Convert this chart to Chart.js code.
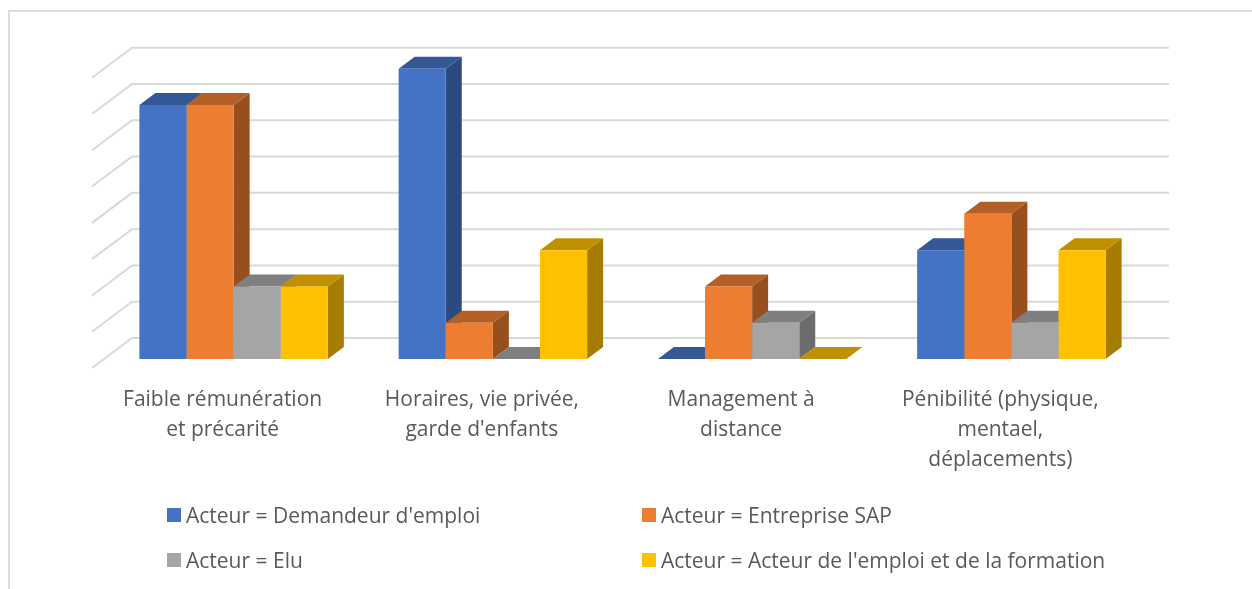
<!DOCTYPE html>
<html><head><meta charset="utf-8">
<style>html,body{margin:0;padding:0;background:#fff}#w{width:1252px;height:589px;position:relative}</style>
<script src="https://cdn.jsdelivr.net/npm/chart.js@4"></script>
</head><body><div id="w"><canvas id="c" width="1252" height="589"></canvas></div>
<script>
const categories = [
  ["Faible rémunération","et précarité"],
  ["Horaires, vie privée,","garde d'enfants"],
  ["Management à","distance"],
  ["Pénibilité (physique,","mentael,","déplacements)"]
];
const seriesNames = ["Acteur = Demandeur d'emploi","Acteur = Entreprise SAP","Acteur = Elu","Acteur = Acteur de l'emploi et de la formation"];
const demandeur = [7,8,0,3];
const entreprise = [7,1,2,4];
const elu = [2,0,1,1];
const acteurEmploi = [2,3,0,3];
const frontColors = ["#4472C4","#ED7D31","#A5A5A5","#FFC000"];
const topColors = ["#345796","#B45F25","#7F7F7F","#C09000"];
const sideColors = ["#2B4A80","#984F1E","#6C6C6C","#A67D00"];
const FONT = '"Open Sans", sans-serif';
const TEXT = "#595959", GRID = "#D9D9D9";
const DX = 16, DY = 12;

const depth3d = {
  id:"depth3d",
  beforeDatasetsDraw(chart){
    const c = chart.ctx, y = chart.scales.y, a = chart.chartArea;
    c.save();
    c.strokeStyle = GRID; c.lineWidth = 2;
    y.ticks.forEach(t=>{
      const p = y.getPixelForValue(t.value);
      c.beginPath();
      c.moveTo(a.left-12, p+9);
      c.lineTo(a.left+28, p-21);
      c.lineTo(a.right+28, p-21);
      c.stroke();
    });
    const n = chart.data.labels.length;
    for(let i=0;i<n;i++){
      chart.data.datasets.forEach((ds,d)=>{
        const b = chart.getDatasetMeta(d).data[i];
        const l = b.x-b.width/2, r = b.x+b.width/2, t = b.y, g = b.base;
        c.fillStyle = sideColors[d];
        if(g-t>0.5){
          c.beginPath();c.moveTo(r,t);c.lineTo(r+DX,t-DY);c.lineTo(r+DX,g-DY);c.lineTo(r,g);c.closePath();c.fill();
        }
        c.fillStyle = topColors[d];
        c.beginPath();c.moveTo(l,t);c.lineTo(l+DX,t-DY);c.lineTo(r+DX,t-DY);c.lineTo(r,t);c.closePath();c.fill();
      });
    }
    c.restore();
  },
  afterDraw(chart){
    const c = chart.ctx;
    c.save();
    c.strokeStyle = "#DDDDDD"; c.lineWidth = 2;
    c.beginPath();c.moveTo(9,589);c.lineTo(9,11);c.lineTo(1252,11);c.stroke();
    const pos = [[167,508],[642,508],[167,553],[642,553]];
    c.font = "21px "+FONT; c.textBaseline="middle"; c.textAlign="left";
    chart.data.datasets.forEach((ds,i)=>{
      c.fillStyle = ds.backgroundColor;
      c.fillRect(pos[i][0],pos[i][1],14,14);
      c.fillStyle = TEXT;
      c.fillText(ds.label,pos[i][0]+19,pos[i][1]+9);
    });
    c.restore();
  }
};

new Chart(document.getElementById("c"),{
  type:"bar",
  data:{labels:categories,datasets:[demandeur,entreprise,elu,acteurEmploi].map((v,i)=>({
    label:seriesNames[i],data:v,backgroundColor:frontColors[i],borderWidth:0,
    barPercentage:1,categoryPercentage:0.727
  }))},
  options:{
    responsive:false,animation:false,
    layout:{padding:{left:104,right:111,top:68.7,bottom:80}},
    plugins:{legend:{display:false},tooltip:{enabled:false},title:{display:false}},
    scales:{
      y:{display:false,min:0,max:8,ticks:{stepSize:1}},
      x:{
        grid:{display:false},border:{display:false},
        afterFit(s){s.height=150;},
        ticks:{color:TEXT,font:{family:FONT,size:21,lineHeight:30/21},padding:18,labelOffset:-11,maxRotation:0,minRotation:0,autoSkip:false}
      }
    }
  },
  plugins:[depth3d]
});
</script></body></html>
